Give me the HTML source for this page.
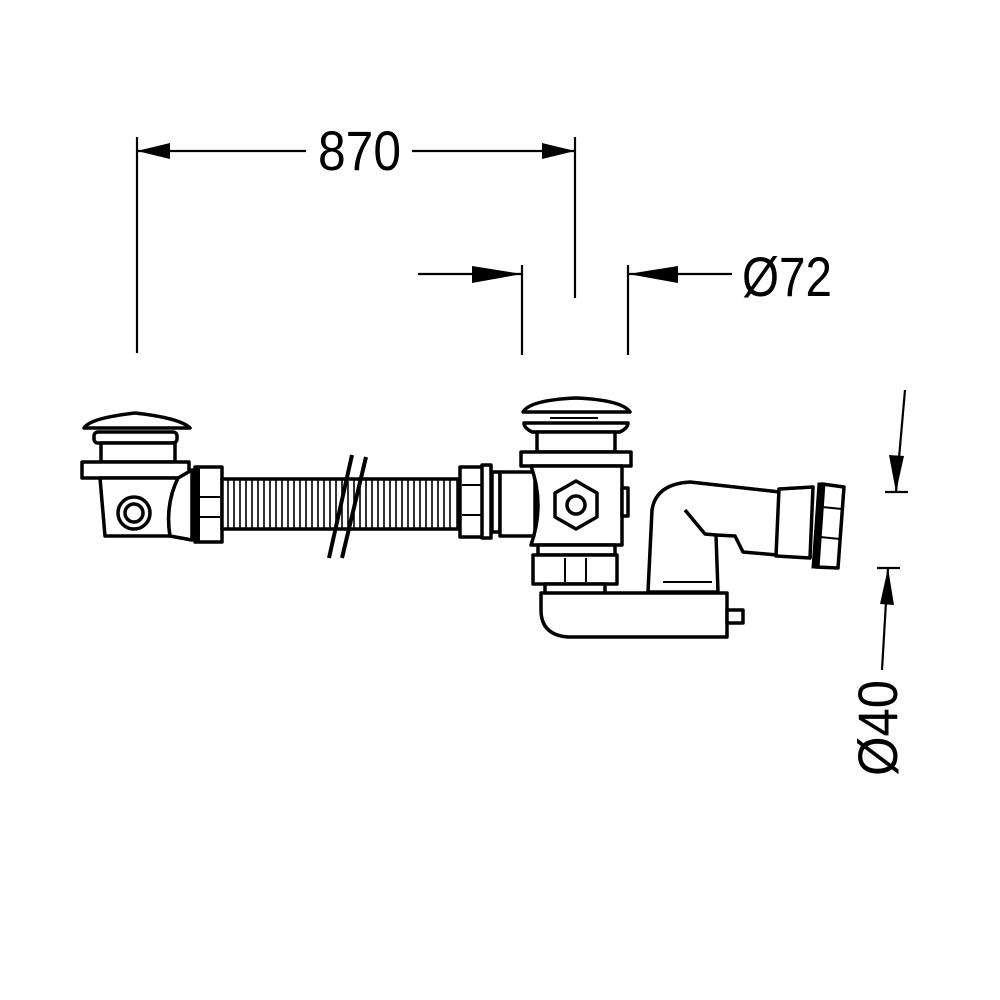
<!DOCTYPE html>
<html><head><meta charset="utf-8"><style>html,body{margin:0;padding:0;background:#fff}svg{display:block}</style></head>
<body>
<svg width="1000" height="1000" viewBox="0 0 1000 1000" xmlns="http://www.w3.org/2000/svg">
<rect width="1000" height="1000" fill="#fff"/>
<g stroke="#000" fill="none" stroke-width="2.2">
<!-- 870 dimension -->
<line x1="137" y1="137" x2="137" y2="353"/>
<line x1="575" y1="137" x2="575" y2="298"/>
<line x1="137" y1="151" x2="306" y2="151"/>
<line x1="412" y1="151" x2="575" y2="151"/>
<!-- Ø72 -->
<line x1="522" y1="265" x2="522" y2="355"/>
<line x1="628" y1="265" x2="628" y2="355"/>
<line x1="418" y1="274" x2="522" y2="274"/>
<line x1="628" y1="274" x2="732" y2="274"/>
<!-- Ø40 -->
<line x1="905" y1="390" x2="896" y2="492"/>
<line x1="885" y1="492" x2="908" y2="492"/>
<line x1="877" y1="568" x2="900" y2="568"/>
<line x1="888" y1="568" x2="882" y2="670"/>
</g>
<g fill="#000">
<polygon points="137,151 170,143 170,159"/>
<polygon points="575,151 542,143 542,159"/>
<polygon points="522,274 472,266 472,283"/>
<polygon points="628,274 678,266 678,283"/>
<polygon points="896,492 889,455 904,456"/>
<polygon points="888,568 880,604 894,605"/>
</g>
<g font-family="'Liberation Sans', sans-serif" fill="#000">
<text x="318" y="170" font-size="56" textLength="83" lengthAdjust="spacingAndGlyphs">870</text>
<text x="742" y="296" font-size="56" textLength="90" lengthAdjust="spacingAndGlyphs">Ø72</text>
<text transform="translate(897,776) rotate(-90)" font-size="56" textLength="96" lengthAdjust="spacingAndGlyphs">Ø40</text>
</g>

<g stroke="#000" fill="#fff" stroke-width="3.5" stroke-linejoin="round">
<!-- LEFT DRAIN -->
<path d="M84,428 Q90,418 135,413 Q180,418 190,428 Z"/>
<rect x="94" y="432" width="83" height="11" rx="4"/>
<rect x="101" y="443" width="74" height="19"/>
<rect x="82" y="462" width="107" height="16"/>
<path d="M100,478 L178,478 Q165,505 170,536 L105,536 Z"/>
<circle cx="134" cy="513" r="16"/>
<circle cx="134" cy="513" r="9"/>
<path d="M178,478 L192,470 L192,540 L170,536 Q165,505 178,478 Z"/>
<rect x="195" y="467" width="27" height="75"/>
<line x1="198" y1="467" x2="198" y2="542" stroke-width="4"/>
<line x1="200" y1="497" x2="220" y2="497" stroke-width="2"/>
<line x1="200" y1="517" x2="220" y2="517" stroke-width="2"/>
<!-- hose -->
<rect x="222" y="479" width="236" height="50"/>
</g>
<g stroke="#000" stroke-width="1.6">
<path d="M228,480V528M234,480V528M240,480V528M246,480V528M252,480V528M258,480V528M264,480V528M270,480V528M276,480V528M282,480V528M288,480V528M294,480V528M300,480V528M306,480V528M312,480V528M318,480V528M324,480V528M330,480V528M336,480V528M342,480V528M348,480V528M354,480V528M360,480V528M366,480V528M372,480V528M378,480V528M384,480V528M390,480V528M396,480V528M402,480V528M408,480V528M414,480V528M420,480V528M426,480V528M432,480V528M438,480V528M444,480V528M450,480V528"/>
</g>
<g stroke="#000" stroke-width="4">
<line x1="352" y1="455" x2="329" y2="558"/>
<line x1="366" y1="457" x2="342" y2="558"/>
</g>

<g stroke="#000" fill="#fff" stroke-width="3.5" stroke-linejoin="round">
<!-- left nut at main drain -->
<rect x="460" y="467" width="28" height="70"/>
<line x1="462" y1="485" x2="486" y2="485" stroke-width="2"/>
<line x1="462" y1="515" x2="486" y2="515" stroke-width="2"/>
<rect x="482" y="465" width="9" height="73"/>
<rect x="492" y="472" width="8" height="60"/>
<rect x="500" y="472" width="35" height="64"/>
<!-- main drain -->
<path d="M523,412 Q530,400 576,398 Q622,400 630,412 Z"/>
<path d="M524,423 Q524,428 532,432 L620,432 Q628,428 628,423 Z"/>
<line x1="550" y1="418" x2="598" y2="418" stroke-width="2"/>
<rect x="537" y="432" width="78" height="20"/>
<rect x="521" y="452" width="110" height="14"/>
<path d="M531,466 L622,466 L622,545 L531,545 Q545,505 531,466 Z"/>
<polygon points="576,481 597,493 597,517 576,529 555,517 555,493"/>
<circle cx="576" cy="505" r="9"/>
<rect x="622" y="488" width="6" height="28"/>
<rect x="538" y="545" width="77" height="10"/>
<rect x="533" y="555" width="84" height="29"/>
<line x1="565" y1="558" x2="565" y2="582" stroke-width="2"/>
<line x1="586" y1="558" x2="586" y2="582" stroke-width="2"/>
<rect x="545" y="584" width="60" height="10"/>
<!-- elbow pipe -->
<path d="M648,592 L652,510 Q656,484 690,482 L780,492 L777,555 L743,552 L735,536 L716,535 L718,592 Z"/>
<path d="M685,510 L705,534 L716,535" fill="none"/>
<line x1="663" y1="582" x2="712" y2="582" stroke-width="2"/>
<!-- tray -->
<path d="M541,593 L727,593 L727,637 L568,637 Q541,635 541,610 Z"/>
<rect x="727" y="610" width="16" height="13"/>
<!-- outlet connector -->
<path d="M779,489 L813,487 L810,558 L776,556 Z"/>
<path d="M822,484 L844,487 L838,568 L816,567 Z"/>
<line x1="822" y1="507" x2="842" y2="509" stroke-width="2"/>
<line x1="820" y1="537" x2="840" y2="539" stroke-width="2"/>
<path d="M818,483 L825,483 L819,568 L812,568 Z" fill="#000" stroke-width="1"/>
</g>
</svg>
</body></html>
